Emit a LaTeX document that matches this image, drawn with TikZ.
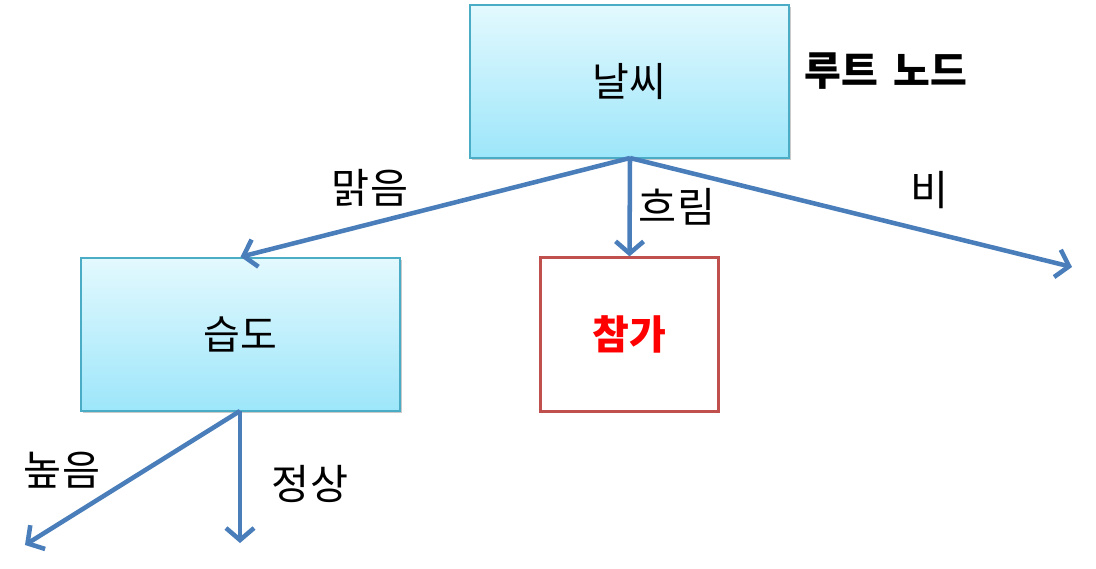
\documentclass[tikz,border=0pt]{standalone}
\usepackage{fontspec}
\setmainfont{Noto Sans CJK KR}
\usetikzlibrary{arrows.meta,shadows}
\definecolor{arrowblue}{HTML}{4A7EBB}
\definecolor{boxborder}{HTML}{4BACC6}
\definecolor{gtop}{HTML}{E3F9FE}
\definecolor{gbot}{HTML}{9DE6FA}
\definecolor{redborder}{HTML}{C0504D}
\tikzset{
  px/.style={x=0.75pt,y=-0.75pt},
  bluebox/.style={draw=boxborder,line width=1.5pt,top color=gtop,bottom color=gbot,
    minimum width=239pt,minimum height=115pt,inner sep=0pt,
    drop shadow={shadow xshift=1.5pt,shadow yshift=-1.5pt,opacity=0.35,fill=black!60},
    font=\fontsize{30}{34}\selectfont},
  redbox/.style={draw=redborder,line width=2.2pt,fill=white,
    minimum width=133pt,minimum height=115pt,inner sep=0pt,
    font=\fontsize{30}{34}\selectfont\bfseries,text=red},
  conn/.style={draw=arrowblue,line width=3.4pt,-{Straight Barb[length=9pt,width=21pt,line width=3.4pt]}},
  lbl/.style={font=\fontsize{31}{35}\selectfont,inner sep=0pt}
}
\begin{document}
\begin{tikzpicture}[px]
\useasboundingbox (0,0) rectangle (1096,568);
\node[bluebox] (weather) at (629.5,81.5) {날씨};
\node[bluebox] (humid) at (240.5,334.5) {습도};
\node[redbox] (join) at (629.5,334.5) {참가};
\node[font=\fontsize{30}{34}\selectfont\bfseries,inner sep=0pt] (root) at (886,71) {루트\hspace{0.15em} 노드};
\coordinate (wb) at (630,158);
\coordinate (hb) at (240,411);
\coordinate (rainend) at (1072,267);
\coordinate (highend) at (25,545);
\coordinate (normend) at (240,543);
\draw[conn] (wb) -- (humid.north);
\draw[conn] (wb) -- (join.north);
\draw[conn] (wb) -- (rainend);
\draw[conn] (hb) -- (highend);
\draw[conn] (hb) -- (normend);
\node[lbl] (l1) at (370,188) {맑음};
\node[lbl] (l2) at (677,207) {흐림};
\node[lbl] (l3) at (930,190) {비};
\node[lbl] (l4) at (62,470) {높음};
\node[lbl] (l5) at (310,484) {정상};
\end{tikzpicture}
\end{document}
